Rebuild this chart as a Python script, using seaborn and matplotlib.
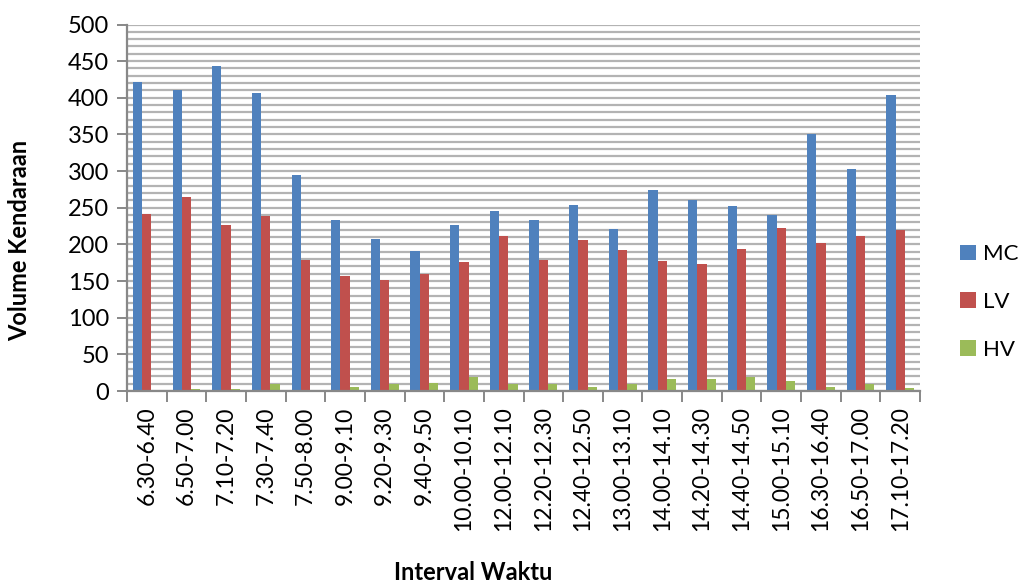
import numpy as np
import pandas as pd
import matplotlib
matplotlib.use("Agg")
import matplotlib.pyplot as plt
from matplotlib.ticker import MultipleLocator, FixedLocator, NullFormatter
import seaborn as sns

# Traffic volume per 20-minute interval
intervals = ["6.30-6.40", "6.50-7.00", "7.10-7.20", "7.30-7.40", "7.50-8.00",
             "9.00-9.10", "9.20-9.30", "9.40-9.50", "10.00-10.10", "12.00-12.10",
             "12.20-12.30", "12.40-12.50", "13.00-13.10", "14.00-14.10", "14.20-14.30",
             "14.40-14.50", "15.00-15.10", "16.30-16.40", "16.50-17.00", "17.10-17.20"]
mc = [422, 411, 443, 407, 294, 233, 208, 191, 226, 245,
      233, 254, 221, 274, 260, 252, 240, 351, 303, 404]
lv = [242, 265, 226, 239, 179, 157, 152, 159, 176, 211,
      179, 206, 192, 178, 173, 194, 222, 202, 211, 219]
hv = [0, 3, 3, 9, 2, 6, 10, 11, 19, 10,
      9, 6, 9, 16, 17, 19, 13, 6, 10, 4]
series = ["MC", "LV", "HV"]
colors = ["#4F81BD", "#C0504D", "#9BBB59"]

df = pd.DataFrame({
    "Interval": intervals * 3,
    "Jenis": [s for s in series for _ in intervals],
    "Volume": mc + lv + hv,
})

sns.set_theme(style="white")
plt.rcParams["font.family"] = ["Lato", "DejaVu Sans"]
plt.rcParams["text.color"] = "black"
plt.rcParams["xtick.color"] = "black"
plt.rcParams["ytick.color"] = "black"

W, H = 1023, 585
fig = plt.figure(figsize=(W / 100, H / 100), dpi=100)
ax = fig.add_axes([127 / W, 1 - 391 / H, (920 - 127) / W, (391 - 24.5) / H])

sns.barplot(data=df, x="Interval", y="Volume", hue="Jenis", hue_order=series,
            palette=colors, width=0.7, saturation=1, ax=ax, legend=True,
            edgecolor="none", linewidth=0)

ax.set_ylim(0, 500)
ax.set_xlim(-0.5, len(intervals) - 0.5)
ax.yaxis.set_major_locator(MultipleLocator(50))
ax.yaxis.set_minor_locator(MultipleLocator(10))
ax.grid(which="both", axis="y", color="#b3b3b3", linewidth=1.6)
ax.set_axisbelow(True)

for side in ["top", "right"]:
    ax.spines[side].set_visible(False)
for side in ["left", "bottom"]:
    ax.spines[side].set_color("#888888")
    ax.spines[side].set_linewidth(1.6)

ax.tick_params(axis="y", which="major", direction="out", length=7, width=1.4,
               color="#888888", labelcolor="black", labelsize=17, pad=6, left=True)
ax.tick_params(axis="y", which="minor", length=0)
ax.xaxis.set_minor_locator(FixedLocator(np.arange(-0.5, len(intervals), 1.0)))
ax.xaxis.set_minor_formatter(NullFormatter())
ax.tick_params(axis="x", which="minor", direction="out", length=8, width=1.4,
               color="#888888", bottom=True)
ax.tick_params(axis="x", which="major", length=0, labelsize=16.5, pad=11,
               labelrotation=90, labelcolor="black")

ax.set_xlabel("")
ax.set_ylabel("")
fig.text(473 / W, 1 - 572 / H, "Interval Waktu", fontsize=17, fontweight="bold",
         ha="center", va="center")
fig.text(20 / W, 1 - 240 / H, "Volume Kendaraan", fontsize=17, fontweight="bold",
         ha="center", va="center", rotation=90)

leg = ax.legend(loc="center left", bbox_to_anchor=(940 / W, 1 - 302 / H),
                bbox_transform=fig.transFigure, frameon=False,
                fontsize=16, handlelength=0.7, handleheight=0.7,
                handletextpad=0.35, labelspacing=1.25)

fig.savefig("out.png", dpi=100)
